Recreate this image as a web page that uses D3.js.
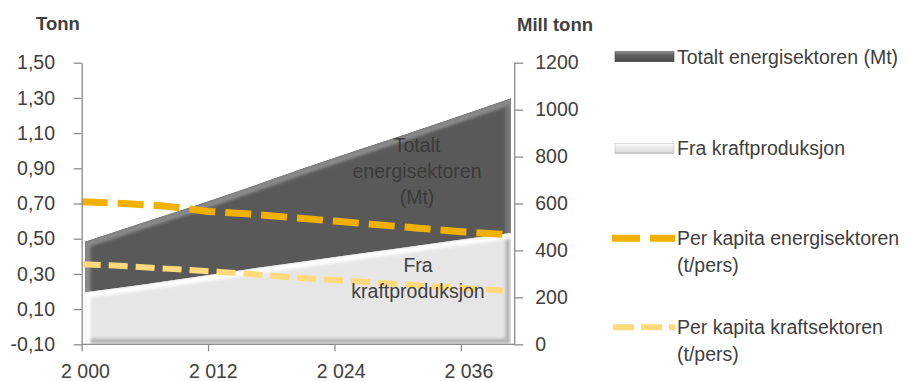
<!DOCTYPE html>
<html>
<head>
<meta charset="utf-8">
<script src="https://cdn.jsdelivr.net/npm/d3@7/dist/d3.min.js"></script>
<style>
  html, body { margin: 0; padding: 0; background: #ffffff; }
  svg { display: block; font-family: "Liberation Sans", Arial, sans-serif; }
</style>
</head>
<body>
<svg id="chart" width="911" height="381"></svg>
<script>
// Utslipp fra energisektoren: totalt (Mt, høyre akse) og per kapita (t/pers, venstre akse)
const areaYears = [2000, 2005, 2010, 2015, 2020, 2025, 2030, 2035, 2040];
const totaltEnergisektorenMt = [437, 512, 585, 662, 742, 818, 893, 970, 1048];
const fraKraftproduksjonMt   = [222, 252, 285, 318, 350, 382, 413, 444, 475];

const lineYears = [2000, 2004, 2008, 2012, 2016, 2020, 2024, 2028, 2032, 2036, 2040];
const perKapitaEnergisektoren = [0.71, 0.70, 0.685, 0.655, 0.64, 0.62, 0.60, 0.58, 0.56, 0.54, 0.525];
const perKapitaKraftsektoren  = [0.355, 0.345, 0.33, 0.315, 0.30, 0.28, 0.265, 0.25, 0.235, 0.22, 0.205];

const leftTicks  = [-0.1, 0.1, 0.3, 0.5, 0.7, 0.9, 1.1, 1.3, 1.5];
const rightTicks = [0, 200, 400, 600, 800, 1000, 1200];
const xTicks     = [2000, 2012, 2024, 2036];

const leftTitle  = "Tonn";
const rightTitle = "Mill tonn";
const legendItems = [
  { key: "totalt", lines: ["Totalt energisektoren (Mt)"] },
  { key: "kraft",  lines: ["Fra kraftproduksjon"] },
  { key: "perEnergi", lines: ["Per kapita energisektoren", "(t/pers)"] },
  { key: "perKraft",  lines: ["Per kapita kraftsektoren", "(t/pers)"] }
];

const nb = d3.formatLocale({ decimal: ",", thousands: "\u00a0", grouping: [3], currency: ["", " kr"], minus: "-" });
const fmtLeft = nb.format(".2f");
const fmtRight = nb.format("d");
const fmtYear = nb.format(",");

const svg = d3.select("#chart");
const defs = svg.append("defs");

// layout
const plotLeft = 81.7, plotRight = 514.2, plotTop = 62.7, plotBottom = 344.3;
const textColor = "#404040";
const axisColor = "#8c8c8c";
const fontSize = 19.5;

const yLeft  = d3.scaleLinear().domain([-0.1, 1.5]).range([plotBottom, plotTop]);
const yRight = d3.scaleLinear().domain([0, 1200]).range([plotBottom, plotTop]);
const xLine  = d3.scaleLinear().domain([2000, 2040]).range([plotLeft, 503]);
const xArea  = d3.scaleLinear().domain([2000, 2040]).range([85, 511]);

// soft blur used for bevel edges
defs.append("filter").attr("id", "soft").attr("x", "-10%").attr("y", "-10%").attr("width", "120%").attr("height", "120%")
  .append("feGaussianBlur").attr("stdDeviation", 1.6);

function bevelArea(id, d, base, edge, hi, lo) {
  defs.append("clipPath").attr("id", id).append("path").attr("d", d);
  const g = svg.append("g").attr("clip-path", `url(#${id})`);
  g.append("path").attr("d", d).attr("fill", base);
  g.append("path").attr("d", d).attr("fill", "none").attr("stroke", edge)
    .attr("stroke-width", 5).attr("filter", "url(#soft)");
  g.append("path").attr("d", d).attr("fill", "none").attr("stroke", lo)
    .attr("stroke-width", 6).attr("transform", "translate(-2.5,-2.5)").attr("filter", "url(#soft)");
  g.append("path").attr("d", d).attr("fill", "none").attr("stroke", hi)
    .attr("stroke-width", 6).attr("transform", "translate(2.5,2.5)").attr("filter", "url(#soft)");
}

const areaGen = (vals) => d3.area()
  .x((d, i) => xArea(areaYears[i]))
  .y0(yRight(0))
  .y1(d => yRight(d))(vals);

bevelArea("clipTotalt", areaGen(totaltEnergisektorenMt), "#595959", "#6e6e6e", "#8a8a8a", "#767676");
bevelArea("clipKraft", areaGen(fraKraftproduksjonMt), "#e6e6e6", "#d2d2d2", "#ffffff", "#b4b4b4");

// area labels
const areaLabel = (lines, cx, cy0, color) => {
  const t = svg.append("text").attr("text-anchor", "middle").attr("fill", color)
    .style("font-size", fontSize + "px");
  lines.forEach((s, i) => t.append("tspan").attr("x", cx).attr("y", cy0 + i * 26).attr("dy", "0.35em").text(s));
};

// lines (left axis)
const lineGen = d3.line().x((d, i) => xLine(lineYears[i])).y(d => yLeft(d));
svg.append("path").attr("d", lineGen(perKapitaEnergisektoren))
  .attr("fill", "none").attr("stroke", "#f2b000").attr("stroke-width", 7)
  .attr("stroke-dasharray", "26,10");
svg.append("path").attr("d", lineGen(perKapitaKraftsektoren))
  .attr("fill", "none").attr("stroke", "#ffd97a").attr("stroke-width", 6)
  .attr("stroke-dasharray", "19,8");

areaLabel(["Totalt", "energisektoren", "(Mt)"], 417, 145, "#3a3a3a");
areaLabel(["Fra", "kraftproduksjon"], 418, 265, "#404040");

// axes
function styleAxis(g) {
  g.select(".domain").attr("stroke", axisColor).attr("stroke-width", 1.3);
  g.selectAll(".tick line").attr("stroke", axisColor).attr("stroke-width", 1.3);
  g.selectAll(".tick text").attr("fill", textColor).style("font-size", fontSize + "px")
    .style("font-family", "'Liberation Sans', Arial, sans-serif");
}

const gLeft = svg.append("g").attr("transform", `translate(${plotLeft},0)`)
  .call(d3.axisLeft(yLeft).tickValues(leftTicks).tickFormat(fmtLeft).tickSize(8).tickSizeOuter(0).tickPadding(18.7));
styleAxis(gLeft);

const gRight = svg.append("g").attr("transform", `translate(${plotRight},0)`)
  .call(d3.axisRight(yRight).tickValues(rightTicks).tickFormat(fmtRight).tickSize(9).tickSizeOuter(0).tickPadding(12));
styleAxis(gRight);

const gBottom = svg.append("g").attr("transform", `translate(0,${plotBottom})`)
  .call(d3.axisBottom(xLine).tickValues(xTicks).tickFormat(fmtYear).tickSize(7).tickSizeOuter(0).tickPadding(13));
styleAxis(gBottom);
gBottom.select(".domain").remove();
gBottom.append("line").attr("x1", plotLeft).attr("x2", plotRight).attr("y1", 0).attr("y2", 0)
  .attr("stroke", axisColor).attr("stroke-width", 1.3);
gBottom.selectAll(".tick text").attr("x", d => xArea(d) - xLine(d));

// axis titles
svg.append("text").attr("x", 58).attr("y", 30).attr("text-anchor", "middle")
  .attr("fill", textColor).style("font-size", "18.5px").style("font-weight", "bold").text(leftTitle);
svg.append("text").attr("x", 555).attr("y", 31).attr("text-anchor", "middle")
  .attr("fill", textColor).style("font-size", "18.5px").style("font-weight", "bold").text(rightTitle);

// legend
const gradDark = defs.append("linearGradient").attr("id", "gDark").attr("x1", 0).attr("y1", 0).attr("x2", 0).attr("y2", 1);
[["0%", "#8e8e8e"], ["35%", "#5e5e5e"], ["80%", "#545454"], ["100%", "#3c3c3c"]]
  .forEach(([o, c]) => gradDark.append("stop").attr("offset", o).attr("stop-color", c));
const gradLight = defs.append("linearGradient").attr("id", "gLight").attr("x1", 0).attr("y1", 0).attr("x2", 0).attr("y2", 1);
[["0%", "#ffffff"], ["35%", "#ececec"], ["80%", "#dedede"], ["100%", "#b0b0b0"]]
  .forEach(([o, c]) => gradLight.append("stop").attr("offset", o).attr("stop-color", c));

const legendY = [56.7, 148.5, 238.3, 327.3];
const gLegend = svg.append("g");
legendItems.forEach((item, i) => {
  const cy = legendY[i];
  if (item.key === "totalt" || item.key === "kraft") {
    gLegend.append("rect").attr("x", 615).attr("y", cy - 5).attr("width", 59).attr("height", 10)
      .attr("fill", item.key === "totalt" ? "url(#gDark)" : "url(#gLight)")
      .attr("stroke", item.key === "totalt" ? "#4a4a4a" : "#c4c4c4").attr("stroke-width", 0.6);
  } else if (item.key === "perEnergi") {
    gLegend.append("line").attr("x1", 612).attr("x2", 675).attr("y1", cy).attr("y2", cy)
      .attr("stroke", "#f2b000").attr("stroke-width", 7).attr("stroke-dasharray", "28,10");
  } else {
    gLegend.append("line").attr("x1", 613).attr("x2", 675).attr("y1", cy).attr("y2", cy)
      .attr("stroke", "#ffd97a").attr("stroke-width", 6).attr("stroke-dasharray", "21,7");
  }
  const t = gLegend.append("text").attr("fill", textColor).style("font-size", fontSize + "px");
  item.lines.forEach((s, j) => t.append("tspan").attr("x", 677).attr("y", cy + j * 27).attr("dy", "0.35em").text(s));
});
</script>
</body>
</html>
